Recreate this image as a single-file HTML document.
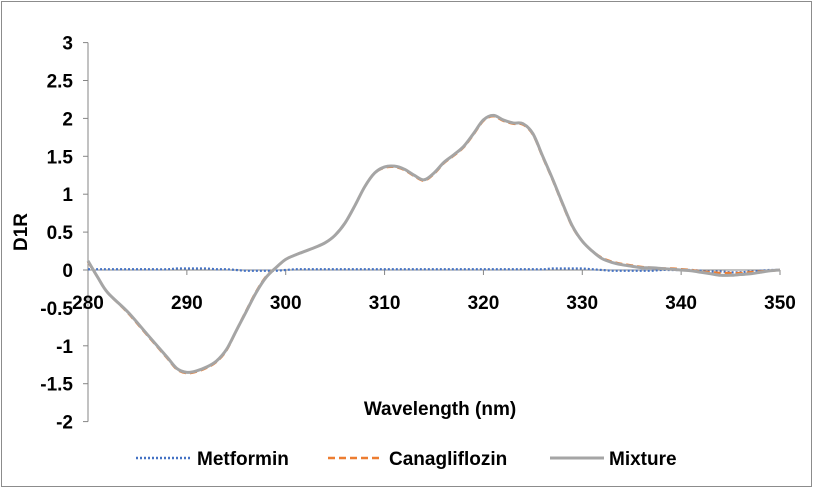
<!DOCTYPE html>
<html><head><meta charset="utf-8"><style>
body{margin:0;background:#fff}
svg{display:block}
text{font-family:"Liberation Sans",Arial,sans-serif;font-weight:bold;fill:#000}
</style></head><body>
<svg id="c" width="814" height="489">
<rect x="1.5" y="1.5" width="810" height="485" fill="#fff" stroke="#8c8c8c"/>
<g id="axes"></g><g id="series"></g>
<text x="440" y="415" text-anchor="middle" font-size="19">Wavelength (nm)</text>
<text transform="translate(27,232) rotate(-90)" text-anchor="middle" font-size="19">D1R</text>
<g>
<g><line x1="136" y1="458" x2="190" y2="458" stroke="#4472c4" stroke-width="2.5" stroke-dasharray="2,2"/><text x="197" y="465" font-size="19">Metformin</text></g>
<g><line x1="328" y1="458" x2="383" y2="458" stroke="#ed7d31" stroke-width="2.5" stroke-dasharray="7,4"/><text x="389" y="465" font-size="19">Canagliflozin</text></g>
<g><line x1="550" y1="458" x2="604" y2="458" stroke="#a5a5a5" stroke-width="3"/><text x="609" y="465" font-size="19">Mixture</text></g>
</g>
</svg>
<script>
const wavelengths=[280,281,282,284,286,288,289,290,291,292,293,294,295,296,297,298,299,300,301,302,303,304,305,306,307,308,309,310,311,312,313,314,315,316,317,318,319,320,321,322,323,324,325,326,327,328,329,330,331,332,333,334,335,336,337,338,339,340,341,342,343,344,345,346,347,348,349,350];
const mixture=[0.12,-0.1,-0.3,-0.55,-0.85,-1.15,-1.3,-1.35,-1.33,-1.28,-1.2,-1.05,-0.8,-0.55,-0.3,-0.1,0.03,0.14,0.2,0.25,0.3,0.36,0.46,0.62,0.85,1.1,1.28,1.36,1.37,1.33,1.25,1.19,1.28,1.42,1.52,1.63,1.8,1.98,2.04,1.98,1.94,1.93,1.8,1.5,1.2,0.88,0.58,0.38,0.25,0.15,0.1,0.07,0.05,0.03,0.03,0.02,0.01,0.0,-0.01,-0.03,-0.05,-0.07,-0.07,-0.06,-0.05,-0.03,-0.01,0.0];
const canagliflozin=[0.11,-0.1,-0.3,-0.56,-0.86,-1.16,-1.31,-1.36,-1.34,-1.29,-1.21,-1.06,-0.8,-0.54,-0.29,-0.09,0.03,0.14,0.2,0.25,0.3,0.36,0.46,0.62,0.85,1.1,1.28,1.35,1.36,1.32,1.24,1.18,1.27,1.41,1.51,1.62,1.79,1.97,2.03,1.97,1.93,1.92,1.79,1.49,1.19,0.87,0.57,0.38,0.25,0.16,0.11,0.08,0.06,0.04,0.03,0.02,0.02,0.01,0.0,-0.02,-0.03,-0.04,-0.04,-0.04,-0.03,-0.02,-0.01,0.0];
const metformin=[0.01,0.01,0.01,0.01,0.01,0.01,0.02,0.02,0.02,0.02,0.01,0.01,0.0,-0.01,-0.01,-0.01,-0.01,0.0,0.01,0.01,0.01,0.01,0.01,0.01,0.01,0.01,0.01,0.01,0.01,0.01,0.01,0.01,0.01,0.01,0.01,0.01,0.01,0.01,0.01,0.01,0.01,0.01,0.01,0.01,0.02,0.02,0.02,0.02,0.01,0.0,-0.01,-0.01,-0.01,-0.01,-0.01,0.0,0.0,0.0,0.0,-0.01,-0.02,-0.02,-0.03,-0.03,-0.02,-0.01,0.0,0.0];
const xTicks=[280,290,300,310,320,330,340,350];
const yTicks=[-2,-1.5,-1,-0.5,0,0.5,1,1.5,2,2.5,3];
const X=v=>88+(v-280)*(692/70);
const Y=v=>270-v*75.8;
const NS='http://www.w3.org/2000/svg';
const axes=document.getElementById('axes'),ser=document.getElementById('series');
function mk(tag,attrs,parent){const e=document.createElementNS(NS,tag);for(const k in attrs)e.setAttribute(k,attrs[k]);parent.appendChild(e);return e;}
let a=mk('line',{x1:X(280),y1:Y(3),x2:X(280),y2:Y(-2),stroke:'#868686'},axes);


a=mk('line',{x1:X(280),y1:Y(0),x2:X(350),y2:Y(0),stroke:'#868686'},axes);


yTicks.forEach(t=>{mk('line',{x1:X(280)-5,y1:Y(t),x2:X(280),y2:Y(t),stroke:'#868686'},axes);
const tx=mk('text',{x:X(280)-15,y:Y(t)+7,'text-anchor':'end','font-size':19},axes);tx.textContent=t;

});
xTicks.forEach(t=>{mk('line',{x1:X(t),y1:Y(0),x2:X(t),y2:Y(0)+5,stroke:'#868686'},axes);
const tx=mk('text',{x:X(t),y:Y(0)+39,'text-anchor':'middle','font-size':19},axes);tx.textContent=t;

});
function path(vals){const p=wavelengths.map((w,i)=>[X(w),Y(vals[i])]);let d='M'+p[0][0]+','+p[0][1];
for(let i=0;i<p.length-1;i++){const p0=p[i-1]||p[i],p1=p[i],p2=p[i+1],p3=p[i+2]||p2;
d+=' C'+(p1[0]+(p2[0]-p0[0])/6)+','+(p1[1]+(p2[1]-p0[1])/6)+' '+(p2[0]-(p3[0]-p1[0])/6)+','+(p2[1]-(p3[1]-p1[1])/6)+' '+p2[0]+','+p2[1];}return d;}
let s=mk('path',{d:path(metformin),fill:'none',stroke:'#4472c4','stroke-width':2.2,'stroke-dasharray':'2,2'},ser);


s=mk('path',{d:path(canagliflozin),fill:'none',stroke:'#ed7d31','stroke-width':2.5,'stroke-dasharray':'7,4'},ser);


s=mk('path',{d:path(mixture),fill:'none',stroke:'#a5a5a5','stroke-width':3},ser);


</script>
</body></html>
